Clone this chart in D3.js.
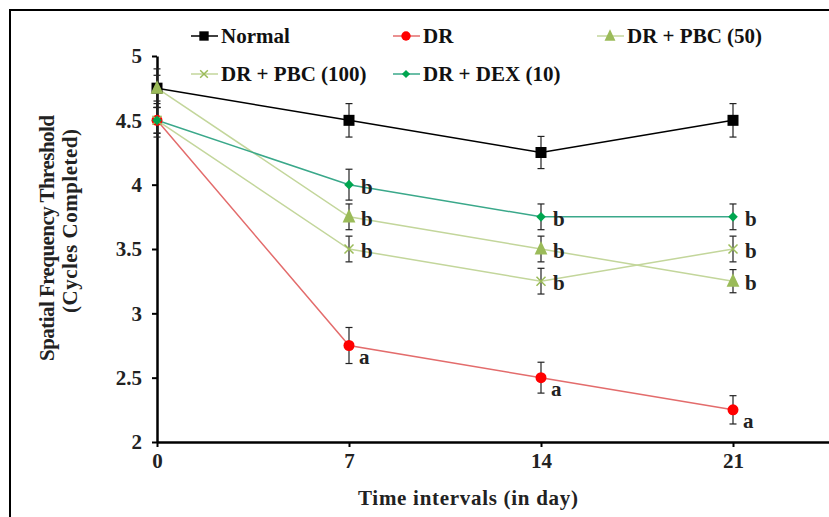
<!DOCTYPE html>
<html>
<head>
<meta charset="utf-8">
<script src="https://cdn.jsdelivr.net/npm/d3@7"></script>
<style>
  body { margin: 0; background: #fff; }
  svg text { font-family: 'Liberation Serif', 'DejaVu Serif', serif; font-weight: bold; }
</style>
</head>
<body>
<svg id="chart" width="829" height="517"></svg>
<script>
const days = [0, 7, 14, 21];
const xTicks = [0, 7, 14, 21];
const yTicks = [2, 2.5, 3, 3.5, 4, 4.5, 5];

const seriesNames = ['Normal', 'DR', 'DR + PBC (50)', 'DR + PBC (100)', 'DR + DEX (10)'];
const normalVals = [4.75, 4.5, 4.25, 4.5];
const normalErr = [0.15, 0.13, 0.125, 0.13];
const drVals = [4.5, 2.75, 2.5, 2.25];
const drErr = [0.13, 0.14, 0.12, 0.11];
const pbc50Vals = [4.75, 3.75, 3.5, 3.25];
const pbc50Err = [0.1, 0.1, 0.1, 0.09];
const pbc100Vals = [4.5, 3.5, 3.25, 3.5];
const pbc100Err = [0.1, 0.1, 0.1, 0.1];
const dexVals = [4.5, 4.0, 3.75, 3.75];
const dexErr = [0.1, 0.12, 0.1, 0.1];
const drLetters = ['', 'a', 'a', 'a'];
const bLetters = ['', 'b', 'b', 'b'];

const series = [
  { name: seriesNames[0], vals: normalVals, err: normalErr, line: '#000', fill: '#000', sym: 'square', letters: null },
  { name: seriesNames[1], vals: drVals, err: drErr, line: '#e36c6c', fill: '#ff0000', sym: 'circle', letters: drLetters },
  { name: seriesNames[2], vals: pbc50Vals, err: pbc50Err, line: '#c3d69b', fill: '#9bbb59', sym: 'triangle', letters: bLetters },
  { name: seriesNames[3], vals: pbc100Vals, err: pbc100Err, line: '#c3d69b', fill: '#9bbb59', sym: 'cross', letters: bLetters },
  { name: seriesNames[4], vals: dexVals, err: dexErr, line: '#3aa88a', fill: '#00a650', sym: 'diamond', letters: bLetters }
];

const FS = 21;
const svg = d3.select('#chart');

// outer frame
svg.append('rect')
  .attr('x', 10).attr('y', 10)
  .attr('width', 830).attr('height', 520)
  .attr('fill', 'none').attr('stroke', '#000').attr('stroke-width', 2);

const x = d3.scaleLinear().domain([0, 24.5]).range([157, 829]);
const y = d3.scaleLinear().domain([2, 5]).range([442, 56]);

const xAxis = svg.append('g')
  .attr('transform', `translate(0,${y(2)})`)
  .call(d3.axisBottom(x).tickValues(xTicks).tickSize(5).tickSizeOuter(0).tickPadding(6));
const yAxis = svg.append('g')
  .attr('transform', `translate(${x(0)},0)`)
  .call(d3.axisLeft(y).tickValues(yTicks).tickFormat(d3.format('')).tickSize(5).tickSizeOuter(0).tickPadding(10));

[xAxis, yAxis].forEach((g) => {
  g.select('.domain').attr('stroke-width', 2.5);
  g.selectAll('.tick line').attr('stroke-width', 2);
  g.selectAll('.tick text').attr('font-size', FS).attr('fill', '#222');
});

// axis titles (stretched a little to the width of the original face)
svg.append('text')
  .attr('x', 468).attr('y', 505)
  .attr('text-anchor', 'middle')
  .attr('font-size', FS)
  .attr('fill', '#222')
  .attr('textLength', 220)
  .text('Time intervals (in day)');

svg.append('text')
  .attr('transform', 'translate(54,238) rotate(-90)')
  .attr('text-anchor', 'middle')
  .attr('font-size', FS)
  .attr('fill', '#222')
  .attr('textLength', 246)
  .text('Spatial Frequency Threshold');
svg.append('text')
  .attr('transform', 'translate(77,221) rotate(-90)')
  .attr('text-anchor', 'middle')
  .attr('font-size', FS)
  .attr('fill', '#222')
  .attr('textLength', 184)
  .text('(Cycles Completed)');

function drawSymbol(g, s, cx, cy, scale = 1) {
  if (s.sym === 'square') {
    g.append('rect')
      .attr('x', cx - 5.5 * scale).attr('y', cy - 5.5 * scale)
      .attr('width', 11 * scale).attr('height', 11 * scale)
      .attr('fill', s.fill);
  } else if (s.sym === 'circle') {
    g.append('circle').attr('cx', cx).attr('cy', cy).attr('r', 5.5 * scale).attr('fill', s.fill);
  } else if (s.sym === 'triangle') {
    const r = 8 * scale;
    g.append('path')
      .attr('d', `M${cx},${cy - r} L${cx + r * 0.8},${cy + r * 0.7} L${cx - r * 0.8},${cy + r * 0.7}Z`)
      .attr('fill', s.fill);
  } else if (s.sym === 'cross') {
    const r = 4.5 * scale;
    g.append('path')
      .attr('d', `M${cx - r},${cy - r} L${cx + r},${cy + r} M${cx - r},${cy + r} L${cx + r},${cy - r}`)
      .attr('stroke', s.fill).attr('stroke-width', 1.5).attr('fill', 'none');
  } else if (s.sym === 'diamond') {
    const r = 4.8 * scale;
    g.append('path')
      .attr('d', `M${cx},${cy - r} L${cx + r},${cy} L${cx},${cy + r} L${cx - r},${cy}Z`)
      .attr('fill', s.fill);
  }
}

const line = d3.line().x((d) => x(d[0])).y((d) => y(d[1]));

// lines first
series.forEach((s) => {
  svg.append('path')
    .datum(days.map((d, i) => [d, s.vals[i]]))
    .attr('d', line)
    .attr('fill', 'none')
    .attr('stroke', s.line)
    .attr('stroke-width', 1.5);
});

// error bars
series.forEach((s) => {
  const g = svg.append('g');
  days.forEach((d, i) => {
    const cx = x(d);
    const y1 = y(s.vals[i] + s.err[i]);
    const y2 = y(s.vals[i] - s.err[i]);
    g.append('line').attr('x1', cx).attr('x2', cx).attr('y1', y1).attr('y2', y2)
      .attr('stroke', '#222').attr('stroke-width', 1.2);
    [y1, y2].forEach((yy) => {
      g.append('line').attr('x1', cx - 3.5).attr('x2', cx + 3.5).attr('y1', yy).attr('y2', yy)
        .attr('stroke', '#222').attr('stroke-width', 1.2);
    });
  });
});

// markers and letters
series.forEach((s) => {
  const g = svg.append('g');
  days.forEach((d, i) => {
    drawSymbol(g, s, x(d), y(s.vals[i]));
    if (s.letters && s.letters[i]) {
      const isA = s.sym === 'circle';
      g.append('text')
        .attr('x', x(d) + (isA ? 10 : 12))
        .attr('y', y(s.vals[i]) + (isA ? 18 : 9))
        .attr('font-size', FS)
        .attr('fill', '#222')
        .text(s.letters[i]);
    }
  });
});

// legend
const legendPos = [[191, 36], [393, 36], [597, 36], [191, 74], [393, 74]];
series.forEach((s, i) => {
  const [lx, ly] = legendPos[i];
  const g = svg.append('g');
  g.append('line').attr('x1', lx).attr('x2', lx + 27).attr('y1', ly).attr('y2', ly)
    .attr('stroke', s.line).attr('stroke-width', 1.5);
  drawSymbol(g, s, lx + 13, ly, 0.85);
  g.append('text')
    .attr('x', lx + 30).attr('y', ly + 7)
    .attr('font-size', FS)
    .attr('fill', '#111')
    .text(s.name);
});
</script>
</body>
</html>
